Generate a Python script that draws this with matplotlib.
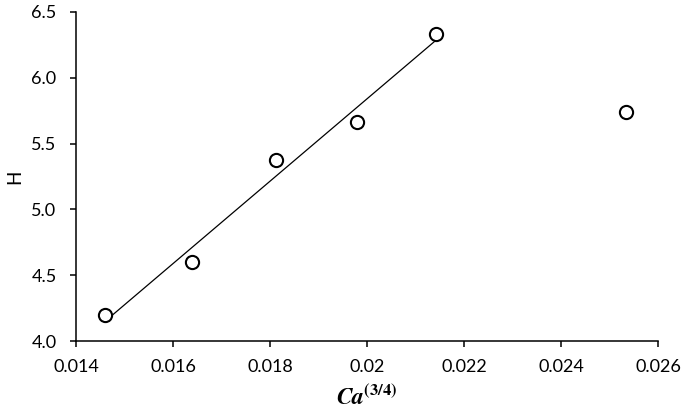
import numpy as np
import matplotlib
matplotlib.use("Agg")
import matplotlib.pyplot as plt

# Data
ca34 = [0.0146, 0.0164, 0.01812, 0.01979, 0.02142, 0.02533]
H = [4.198, 4.603, 5.375, 5.666, 6.333, 5.738]
n_fit = 5  # trend line uses the first five points
x_ticks = [0.014, 0.016, 0.018, 0.02, 0.022, 0.024, 0.026]
x_tick_labels = ["0.014", "0.016", "0.018", "0.02", "0.022", "0.024", "0.026"]
y_ticks = [4.0, 4.5, 5.0, 5.5, 6.0, 6.5]
y_tick_labels = ["4.0", "4.5", "5.0", "5.5", "6.0", "6.5"]

plt.rcParams['font.family'] = ['Lato', 'DejaVu Sans']
plt.rcParams['mathtext.fontset'] = 'stix'

fig = plt.figure(figsize=(6.85, 4.12), dpi=100)
ax = fig.add_axes([0.111, 0.1723, 0.8496, 0.7986])

xf = np.array(ca34[:n_fit])
yf = np.array(H[:n_fit])
slope, intercept = np.polyfit(xf, yf, 1)
xl = np.array([xf.min(), xf.max()])
ax.plot(xl, slope * xl + intercept, color='black', lw=0.9, zorder=2)

ax.plot(ca34, H, linestyle='none', marker='o', markersize=9.5,
        markerfacecolor='white', markeredgecolor='black', markeredgewidth=1.5,
        zorder=3, clip_on=False)

ax.set_xlim(0.014, 0.026)
ax.set_ylim(4.0, 6.5)
ax.set_xticks(x_ticks)
ax.set_xticklabels(x_tick_labels)
ax.set_yticks(y_ticks)
ax.set_yticklabels(y_tick_labels)

for s in ['top', 'right']:
    ax.spines[s].set_visible(False)
for s in ['left', 'bottom']:
    ax.spines[s].set_linewidth(1.1)
    ax.spines[s].set_color('black')
ax.tick_params(axis='both', direction='out', length=4, width=1.1,
               labelsize=13, colors='black')
ax.tick_params(axis='x', pad=9)
ax.tick_params(axis='y', pad=10)

ax.set_ylabel('H', fontsize=13.5, labelpad=6)
ax.set_xlabel(r'$\mathbfit{Ca}^{\mathbf{(3/4)}}$', fontsize=17, labelpad=7)

fig.savefig('out.png', dpi=100)
